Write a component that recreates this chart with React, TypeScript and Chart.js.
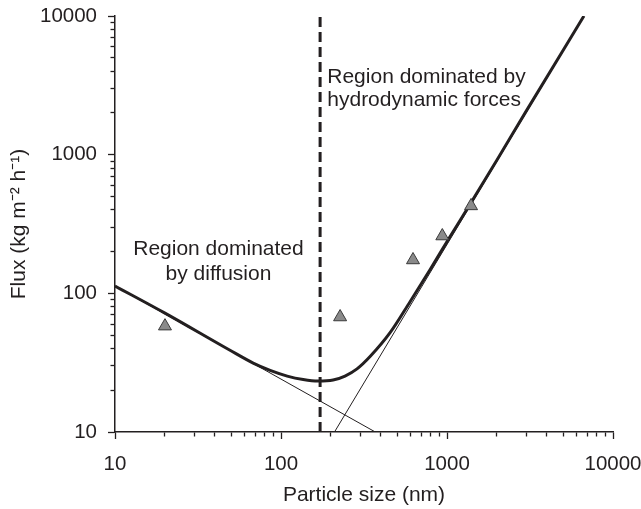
import React, { useEffect, useRef } from 'react';
import { Chart, registerables } from 'chart.js';

Chart.register(...registerables);

// ---- data ----
const xTicks = [10, 20, 30, 40, 50, 60, 70, 80, 90, 100, 200, 300, 400, 500, 600, 700, 800, 900, 1000, 2000, 3000, 4000, 5000, 6000, 7000, 8000, 9000, 10000];
const yTicks = [10, 20, 30, 40, 50, 60, 70, 80, 90, 100, 200, 300, 400, 500, 600, 700, 800, 900, 1000, 2000, 3000, 4000, 5000, 6000, 7000, 8000, 9000, 10000];
const majorTicks = [10, 100, 1000, 10000];

// measured flux (triangles)
const measuredX = [20, 227, 624, 937, 1396];
const measuredY = [58, 67.5, 174, 259, 427];

// total model curve (thick)
const modelX = [10, 20, 49, 68, 86, 109, 136, 167, 206, 243, 287, 344, 454, 599, 790, 1042, 1376, 2000, 3000, 6680];
const modelY = [113, 72, 39, 31.4, 27.8, 25.3, 23.9, 23.3, 23.7, 25.3, 28.5, 35, 52, 87, 148, 256, 438, 915, 2060, 10000];

// diffusion asymptote (thin)
const diffusionX = [10, 370];
const diffusionY = [113, 10];

// hydrodynamic asymptote (thin)
const hydroX = [210, 6700];
const hydroY = [10, 10000];

// regime boundary (dashed)
const boundaryX = [172, 172];
const boundaryY = [10, 10000];

const diffusionLabel = ['Region dominated', 'by diffusion'];
const hydroLabel = ['Region dominated by', 'hydrodynamic forces'];

const INK = '#231f20';
const FONT = '"Liberation Sans", Arial, Helvetica, sans-serif';

const pts = (xs: number[], ys: number[]) => xs.map((x, i) => ({ x, y: ys[i] }));

const labelPlugin = {
  id: 'regionLabels',
  afterDatasetsDraw(chart: any) {
    const { ctx, scales } = chart;
    const xs = scales.x;
    const ys = scales.y;
    ctx.save();
    ctx.fillStyle = INK;
    ctx.font = `21px ${FONT}`;
    ctx.textBaseline = 'middle';
    ctx.textAlign = 'center';
    const dx = xs.getPixelForValue(42);
    const dy = ys.getPixelForValue(209);
    diffusionLabel.forEach((t, i) => ctx.fillText(t, dx, dy + i * 25));
    ctx.textAlign = 'left';
    const hx = xs.getPixelForValue(190);
    const hy = ys.getPixelForValue(3630);
    hydroLabel.forEach((t, i) => ctx.fillText(t, hx, hy + i * 23.5));
    ctx.restore();
  },
};

export default function App() {
  const canvasRef = useRef<HTMLCanvasElement | null>(null);

  useEffect(() => {
    if (!canvasRef.current) return;
    const isMajor = (v: number) => majorTicks.includes(Number(v));
    const chart = new Chart(canvasRef.current, {
      type: 'scatter',
      data: {
        datasets: [
          {
            label: 'Measured',
            data: pts(measuredX, measuredY),
            pointStyle: 'triangle',
            pointRadius: 7.5,
            pointHoverRadius: 7.5,
            backgroundColor: '#8a8a8a',
            borderColor: '#3a3a3a',
            borderWidth: 1,
            showLine: false,
          },
          {
            label: 'Model',
            data: pts(modelX, modelY),
            showLine: true,
            borderColor: INK,
            borderWidth: 3,
            pointRadius: 0,
            cubicInterpolationMode: 'monotone',
          },
          {
            label: 'Boundary',
            data: pts(boundaryX, boundaryY),
            showLine: true,
            borderColor: INK,
            borderWidth: 3,
            borderDash: [10, 5],
            pointRadius: 0,
          },
          {
            label: 'Diffusion',
            data: pts(diffusionX, diffusionY),
            showLine: true,
            borderColor: INK,
            borderWidth: 1,
            pointRadius: 0,
          },
          {
            label: 'Hydrodynamic',
            data: pts(hydroX, hydroY),
            showLine: true,
            borderColor: INK,
            borderWidth: 1,
            pointRadius: 0,
          },
        ],
      },
      options: {
        animation: false,
        responsive: false,
        layout: { padding: { top: 16, right: 28, bottom: 0, left: 0 } },
        plugins: {
          legend: { display: false },
          tooltip: { enabled: false },
        },
        scales: {
          x: {
            type: 'logarithmic',
            min: 10,
            max: 10000,
            afterBuildTicks: (s: any) => {
              s.ticks = xTicks.map((v) => ({ value: v, major: isMajor(v) }));
            },
            afterFit: (s: any) => {
              s.height = 77;
              s.paddingLeft = 0;
              s.paddingRight = 0;
            },
            border: { display: true, color: INK, width: 1.5 },
            grid: {
              drawOnChartArea: false,
              drawTicks: true,
              tickLength: 7,
              tickColor: INK,
              tickWidth: 1.3,
              tickBorderDash: (c: any) => (c.tick && isMajor(c.tick.value) ? [] : [4, 100]),
              tickBorderDashOffset: 0,
            },
            ticks: {
              autoSkip: false,
              maxRotation: 0,
              padding: 13,
              color: INK,
              font: { family: FONT, size: 20.5 },
              callback: (v: any) => (isMajor(v) ? String(v) : ''),
            },
            title: {
              display: true,
              text: 'Particle size (nm)',
              color: INK,
              font: { family: FONT, size: 21 },
              padding: { top: 0, bottom: 1 },
            },
          },
          y: {
            type: 'logarithmic',
            min: 10,
            max: 10000,
            afterBuildTicks: (s: any) => {
              s.ticks = yTicks.map((v) => ({ value: v, major: isMajor(v) }));
            },
            afterFit: (s: any) => {
              s.width = 115;
              s.paddingTop = 0;
              s.paddingBottom = 0;
            },
            border: { display: true, color: INK, width: 1.5 },
            grid: {
              drawOnChartArea: false,
              drawTicks: true,
              tickLength: 7,
              tickColor: INK,
              tickWidth: 1.3,
              tickBorderDash: (c: any) => (c.tick && isMajor(c.tick.value) ? [] : [4, 100]),
              tickBorderDashOffset: (c: any) => (c.tick && isMajor(c.tick.value) ? 0 : 101.5),
            },
            ticks: {
              autoSkip: false,
              padding: 11,
              color: INK,
              font: { family: FONT, size: 20.5 },
              callback: (v: any) => (isMajor(v) ? String(v) : ''),
            },
            title: {
              display: true,
              text: 'Flux (kg m\u207B\u00B2 h\u207B\u00B9)',
              color: INK,
              font: { family: FONT, size: 21 },
              padding: { top: 7, bottom: 0 },
            },
          },
        },
      },
      plugins: [labelPlugin],
    } as any);
    return () => chart.destroy();
  }, []);

  return (
    <div style={{ position: 'absolute', left: 0, top: 0, width: 641, height: 509, background: '#fff' }}>
      <canvas ref={canvasRef} width={641} height={509} style={{ display: 'block' }} />
    </div>
  );
}
